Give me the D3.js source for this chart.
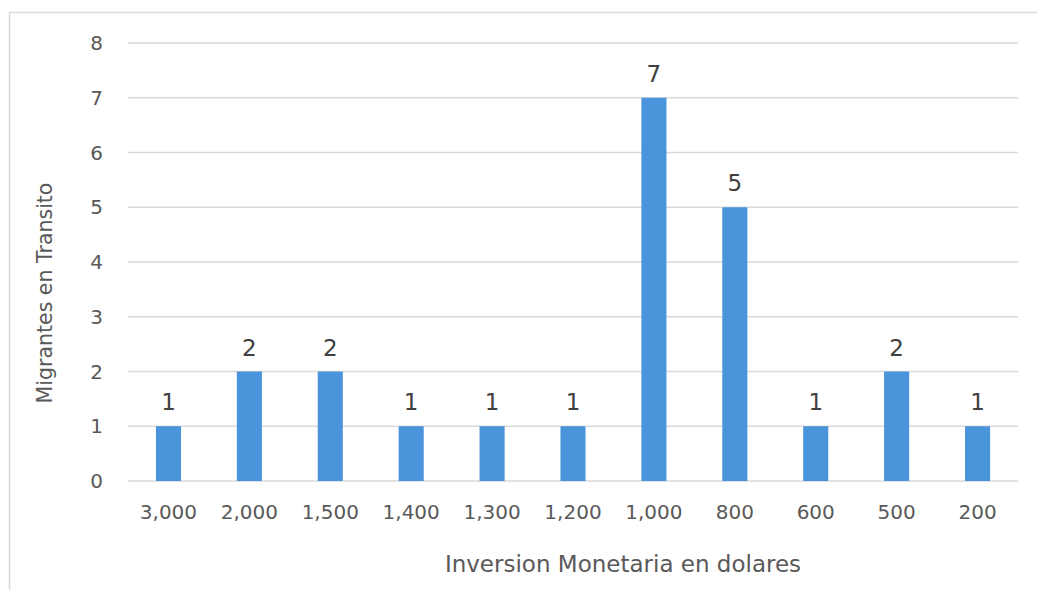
<!DOCTYPE html>
<html>
<head>
<meta charset="utf-8">
<script src="https://cdn.jsdelivr.net/npm/d3@7"></script>
<style>
  body { margin: 0; background: #fff; }
  text { font-family: "DejaVu Sans", sans-serif; }
</style>
</head>
<body>
<script>
let w = 1037;
let h = 590;

// data
let categories = ["3,000", "2,000", "1,500", "1,400", "1,300", "1,200", "1,000", "800", "600", "500", "200"];
let values = [1, 2, 2, 1, 1, 1, 7, 5, 1, 2, 1];
let yTicks = [0, 1, 2, 3, 4, 5, 6, 7, 8];

let margin = { left: 128, right: 19, top: 43, bottom: 109 };

let svg = d3.select("body")
  .append("svg")
  .attr("width", w)
  .attr("height", h);

// chart frame
svg.append("rect")
  .attr("x", 9.5)
  .attr("y", 12.5)
  .attr("width", w + 10)
  .attr("height", h + 10)
  .attr("fill", "none")
  .attr("stroke", "#d9d9d9")
  .attr("stroke-width", 1.5);

let xScale = d3.scaleBand()
  .domain(categories)
  .range([margin.left, w - margin.right])
  .paddingInner(0.69)
  .paddingOuter(0.345);

let yScale = d3.scaleLinear()
  .domain([0, 8])
  .range([h - margin.bottom, margin.top]);

// gridlines
svg.selectAll("line.grid")
  .data(yTicks)
  .enter()
  .append("line")
  .attr("class", "grid")
  .attr("x1", margin.left)
  .attr("x2", w - margin.right)
  .attr("y1", d => yScale(d))
  .attr("y2", d => yScale(d))
  .attr("stroke", "#d9d9d9")
  .attr("stroke-width", 1.5);

// y tick labels
svg.selectAll("text.ytick")
  .data(yTicks)
  .enter()
  .append("text")
  .attr("class", "ytick")
  .attr("x", 103)
  .attr("y", d => yScale(d) + 7)
  .attr("text-anchor", "end")
  .attr("font-size", "20px")
  .attr("fill", "#595959")
  .text(d => d);

// bars
svg.selectAll("rect.bar")
  .data(values)
  .enter()
  .append("rect")
  .attr("class", "bar")
  .attr("x", (d, i) => xScale(categories[i]))
  .attr("y", d => yScale(d))
  .attr("width", xScale.bandwidth())
  .attr("height", d => yScale(0) - yScale(d))
  .attr("fill", "#4a94dc");

// value labels
svg.selectAll("text.val")
  .data(values)
  .enter()
  .append("text")
  .attr("class", "val")
  .attr("x", (d, i) => xScale(categories[i]) + xScale.bandwidth() / 2)
  .attr("y", d => yScale(d) - 16)
  .attr("text-anchor", "middle")
  .attr("font-size", "23px")
  .attr("fill", "#404040")
  .text(d => d);

// x tick labels
svg.selectAll("text.xtick")
  .data(categories)
  .enter()
  .append("text")
  .attr("class", "xtick")
  .attr("x", d => xScale(d) + xScale.bandwidth() / 2)
  .attr("y", 519)
  .attr("text-anchor", "middle")
  .attr("font-size", "20px")
  .attr("fill", "#595959")
  .text(d => d);

// axis titles
svg.append("text")
  .attr("x", 623)
  .attr("y", 572)
  .attr("text-anchor", "middle")
  .attr("font-size", "23px")
  .attr("fill", "#595959")
  .text("Inversion Monetaria en dolares");

svg.append("text")
  .attr("transform", "translate(52,293) rotate(-90)")
  .attr("text-anchor", "middle")
  .attr("font-size", "20.5px")
  .attr("fill", "#595959")
  .text("Migrantes en Transito");
</script>
</body>
</html>
